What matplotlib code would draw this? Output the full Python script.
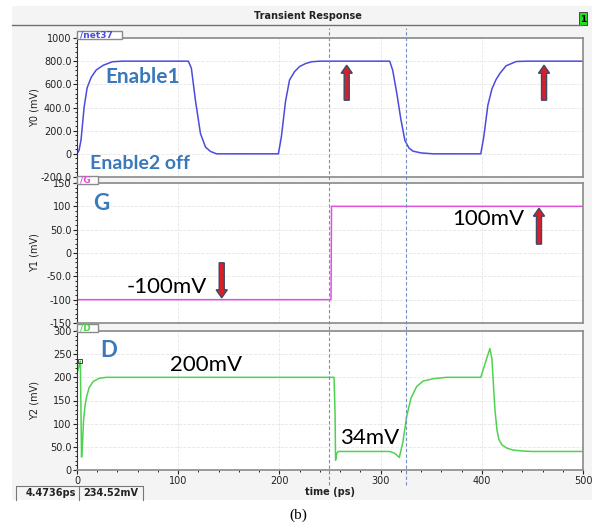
import numpy as np
import matplotlib
matplotlib.use("Agg")
import matplotlib.pyplot as plt
from matplotlib.patches import Rectangle, FancyArrow
from matplotlib.lines import Line2D
from matplotlib.ticker import MultipleLocator
import matplotlib.transforms as mtransforms

W, H = 597, 527

# ---- data ----
y0_t = [0, 2, 4, 7, 10, 14, 19, 26, 35, 45, 110, 113, 117, 122, 127, 132, 138,
        199, 202, 206, 210, 215, 220, 226, 232, 240, 309, 312, 316, 320, 324, 328,
        332, 340, 352, 399, 402, 406, 410, 414, 418, 424, 434, 445, 500]
y0_v = [0, 30, 120, 400, 570, 660, 724, 765, 795, 800, 800, 740, 463, 175, 58, 20, 0,
        0, 150, 450, 637, 710, 754, 780, 795, 800, 800, 720, 522, 300, 116, 50,
        23, 8, 0, 0, 150, 420, 560, 640, 696, 760, 797, 800, 800]

y1_t = [0, 251, 251.5, 500]
y1_v = [-100, -100, 100, 100]

y2_t = [0, 3.3, 4.5, 5.5, 6.5, 8, 9.5, 12, 16, 22, 29, 254, 255, 255.5, 256.5, 258,
        262, 300, 309, 314, 318.5, 322, 325.7, 330, 335.6, 342, 352, 365, 399, 404,
        408, 410, 411.6, 413, 415, 417, 420, 425, 431, 440, 450, 500]
y2_v = [208, 235, 28, 60, 108, 140, 158, 178, 191, 198, 200, 200, 120, 21, 35, 40,
        40, 40, 40, 36, 27, 60, 115, 155, 180, 192, 197, 200, 200, 235,
        262, 240, 180, 130, 86, 65, 54, 47, 43, 41, 40, 40]

cursor_t, cursor_v = 3.3, 235
marker_lines = [249, 325]

panel_names = ["/net37", "/G", "/D"]
panel_ylabels = ["Y0 (mV)", "Y1 (mV)", "Y2 (mV)"]
panel_ylims = [(-200, 1000), (-150, 150), (0, 300)]
panel_major = [200, 50, 50]
panel_ticklabels = [["-200.0", "0", "200.0", "400.0", "600.0", "800.0", "1000"],
                    ["-150", "-100", "-50.0", "0", "50.0", "100", "150"],
                    ["0", "50.0", "100", "150", "200", "250", "300"]]
colors = ["#4b4be0", "#e050e0", "#4fd24f"]

# arrows: (panel, t, tail, tip)
arrows = [(0, 266.5, 463, 765), (0, 461.5, 463, 765),
          (1, 143, -21, -96), (1, 456.5, 19, 96)]


def fx(x):
    return x / W


def fy(y):
    return 1 - y / H


fig = plt.figure(figsize=(W / 100, H / 100), dpi=100)
fig.patch.set_facecolor("white")

# screenshot background
fig.patches.append(Rectangle((fx(12), fy(500)), fx(592) - fx(12), fy(6) - fy(500),
                             transform=fig.transFigure, facecolor="#f4f4f4",
                             edgecolor="none", zorder=-10))
fig.lines.append(Line2D([fx(12), fx(582)], [fy(25), fy(25)], transform=fig.transFigure,
                        color="#707070", lw=1.0))
fig.text(fx(308), fy(16), "Transient Response", ha="center", va="center",
         fontsize=7, fontweight="bold", color="#222222")
fig.patches.append(Rectangle((fx(579), fy(25)), fx(8), 13 / H, transform=fig.transFigure,
                             facecolor="#22dd22", edgecolor="#333333", lw=0.6))
fig.text(fx(583), fy(19), "1", ha="center", va="center", fontsize=6.5,
         fontweight="bold", color="black")

tops = [38, 183, 331]
bottoms = [177, 323, 470]
tab_w = [45, 21, 21]
axes = []
for i in range(3):
    ax = fig.add_axes([fx(77), fy(bottoms[i]), fx(583) - fx(77),
                       (bottoms[i] - tops[i]) / H])
    ax.set_facecolor("white")
    ax.set_xlim(0, 500)
    ax.set_ylim(*panel_ylims[i])
    lo, hi = panel_ylims[i]
    ax.set_yticks(np.arange(lo, hi + 1, panel_major[i]))
    ax.set_yticklabels(panel_ticklabels[i])
    ax.yaxis.set_minor_locator(MultipleLocator(panel_major[i] / 5))
    ax.xaxis.set_major_locator(MultipleLocator(100))
    ax.xaxis.set_minor_locator(MultipleLocator(20))
    ax.tick_params(axis="both", which="major", labelsize=7, length=3, width=0.8,
                   colors="#222222", pad=1)
    ax.tick_params(axis="both", which="minor", length=1.5, width=0.6)
    ax.grid(True, which="major", color="#e6e6e6", lw=0.6, ls="--")
    for s in ["top", "right", "bottom"]:
        ax.spines[s].set_color("#8a8a8a")
        ax.spines[s].set_linewidth(1.2)
    ax.spines["left"].set_color("#333333")
    ax.spines["left"].set_linewidth(0.8)
    if i < 2:
        ax.tick_params(axis="x", which="both", bottom=False, labelbottom=False)
    ax.set_ylabel(panel_ylabels[i], fontsize=7, labelpad=2, color="#222222")
    ax.yaxis.set_label_coords(-0.075, 0.5)
    axes.append(ax)

    # tab with signal name, drawn on top of the axes frame
    fig.patches.append(Rectangle((fx(77), fy(tops[i] + 1)), fx(tab_w[i]), 8 / H,
                                 transform=fig.transFigure, facecolor="white",
                                 edgecolor="#8a8a8a", lw=1.0, zorder=5))
    fig.text(fx(80), fy(tops[i] - 3), panel_names[i], fontsize=6.5, color=colors[i],
             fontweight="bold", ha="left", va="center", zorder=6)

ax0, ax1, ax2 = axes
ax0.plot(y0_t, y0_v, color=colors[0], lw=1.1)
ax1.plot(y1_t, y1_v, color=colors[1], lw=1.1)
ax2.plot(y2_t, y2_v, color=colors[2], lw=1.1)
ax2.plot([cursor_t], [cursor_v], marker="s", ms=3, mfc="none", mec="#444444", mew=0.7)

ax2.set_xticks([0, 100, 200, 300, 400, 500])
ax2.set_xlabel("time (ps)", fontsize=7, fontweight="bold", labelpad=1, color="#222222")

# dashed markers across all panels
tr = mtransforms.blended_transform_factory(ax2.transData, fig.transFigure)
for t in marker_lines:
    fig.lines.append(Line2D([t, t], [fy(485), fy(28)], transform=tr, color="#6f8fbf",
                            lw=0.8, ls=(0, (3, 2)), zorder=7))

# annotations
blue = "#3a78bc"
ax0.text(28, 665, "Enable1", fontsize=15, fontweight="bold", color=blue,
         family="Lato", va="center")
ax0.text(13, -85, "Enable2 off", fontsize=14, fontweight="bold", color=blue,
         family="Lato", va="center")
ax1.text(16, 105, "G", fontsize=16, fontweight="bold", color=blue, family="Lato",
         va="center")
ax1.text(49, -73, "-100mV", fontsize=16, color="black", family="Lato", va="center")
ax1.text(371, 73, "100mV", fontsize=16, color="black", family="Lato", va="center")
ax2.text(23, 257, "D", fontsize=16, fontweight="bold", color=blue, family="Lato",
         va="center")
ax2.text(92, 227, "200mV", fontsize=16, color="black", family="Lato", va="center")
ax2.text(260, 69, "34mV", fontsize=16, color="black", family="Lato", va="center")

for p, t, tail, tip in arrows:
    ax = axes[p]
    lo, hi = panel_ylims[p]
    hl = (hi - lo) * 8 / (bottoms[p] - tops[p])
    ax.add_patch(FancyArrow(t, tail, 0, tip - tail, width=5, head_width=11,
                            head_length=hl, length_includes_head=True,
                            facecolor="#d91f26", edgecolor="#3b4a6b", lw=1.0, zorder=8))

# cursor readout box
fig.lines.append(Line2D([fx(16), fx(16), fx(143), fx(143)],
                        [fy(500), fy(486), fy(486), fy(500)],
                        transform=fig.transFigure, color="#777777", lw=0.8))
fig.lines.append(Line2D([fx(79), fx(79)], [fy(500), fy(486)],
                        transform=fig.transFigure, color="#777777", lw=0.8))
fig.text(fx(76), fy(493), "4.4736ps", fontsize=7, fontweight="bold", ha="right",
         va="center", color="#222222")
fig.text(fx(83), fy(493), "234.52mV", fontsize=7, fontweight="bold", ha="left",
         va="center", color="#222222")

fig.text(fx(298), fy(515), "(b)", fontsize=11, family="Liberation Serif",
         ha="center", va="center")

fig.savefig("out.png", dpi=100)
